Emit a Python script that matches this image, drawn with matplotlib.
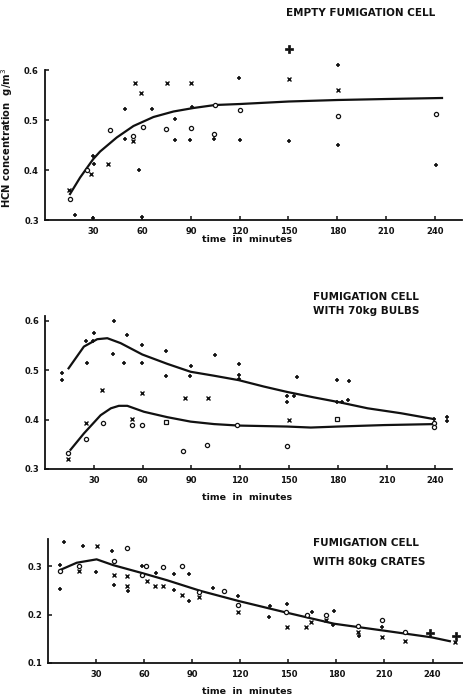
import matplotlib
matplotlib.use("Agg")
import matplotlib.pyplot as plt

# ---------------- data ----------------
# Panel 1: empty fumigation cell
top_plus_t = [18.8, 30, 29.6, 30.7, 49.6, 49.6, 57.8, 60, 66, 80, 80, 90.8, 89.5, 104.3, 119.7, 119.9, 150.2, 180.2, 180.2, 240.5]
top_plus_v = [0.31, 0.305, 0.429, 0.412, 0.523, 0.463, 0.401, 0.307, 0.523, 0.503, 0.46, 0.527, 0.46, 0.463, 0.585, 0.461, 0.459, 0.61, 0.45, 0.41]
top_big_t = [150.2]
top_big_v = [0.643]
top_x_t = [15.1, 28.4, 39.3, 55.7, 54.7, 59.6, 75.2, 90.2, 150.2, 180.4]
top_x_v = [0.361, 0.392, 0.412, 0.575, 0.459, 0.555, 0.575, 0.575, 0.583, 0.561]
top_o_t = [15.7, 26.3, 40.5, 54.7, 60.8, 74.6, 90.2, 104.3, 105, 120.3, 180.2, 240.5]
top_o_v = [0.343, 0.401, 0.481, 0.468, 0.486, 0.483, 0.485, 0.472, 0.531, 0.521, 0.509, 0.512]
top_curve_t = [15.7, 21.9, 30, 34.2, 44.4, 54.7, 67, 79.3, 91.6, 104.9, 120.3, 150.2, 180.2, 210.5, 244.4]
top_curve_v = [0.352, 0.385, 0.422, 0.437, 0.465, 0.488, 0.506, 0.517, 0.524, 0.53, 0.532, 0.537, 0.54, 0.542, 0.544]

# Panel 2: fumigation cell with 70 kg bulbs
mid_plus_t = [10.2, 10.2, 25.5, 26, 30, 29.4, 42.3, 41.5, 50.2, 48.5, 59.8, 59.8, 74.6, 74.1, 90, 88.9, 104.3,
              119.1, 119.1, 119.1, 149, 149, 153.1, 155.2, 179.4, 187, 179.8, 182.3, 186, 239.3, 247, 247]
mid_plus_v = [0.495, 0.48, 0.56, 0.514, 0.575, 0.56, 0.6, 0.533, 0.572, 0.514, 0.551, 0.514, 0.54, 0.489, 0.509, 0.489, 0.531,
              0.513, 0.49, 0.483, 0.448, 0.436, 0.447, 0.487, 0.48, 0.478, 0.436, 0.436, 0.44, 0.401, 0.405, 0.398]
mid_x_t = [35.2, 59.8, 86.1, 100.2, 14.3, 25, 53.6, 150]
mid_x_v = [0.46, 0.453, 0.443, 0.443, 0.32, 0.394, 0.401, 0.399]
mid_sq_t = [74.1, 179.4]
mid_sq_v = [0.396, 0.401]
mid_o_t = [14.3, 25, 35.6, 53.6, 59.8, 85, 99.8, 118.2, 149, 239.3, 239.3]
mid_o_v = [0.332, 0.361, 0.394, 0.389, 0.389, 0.337, 0.349, 0.389, 0.347, 0.393, 0.386]
mid_up_curve_t = [14.5, 23.9, 32.1, 38.3, 46.5, 59.8, 75.2, 89.5, 103.9, 119.1, 134.6, 149, 165.4, 179.8, 198.3, 218.8, 239.3]
mid_up_curve_v = [0.504, 0.548, 0.563, 0.565, 0.555, 0.532, 0.513, 0.497, 0.489, 0.48, 0.467, 0.456, 0.445, 0.436, 0.423, 0.413, 0.401]
mid_lo_curve_t = [15.7, 23.9, 34.2, 40.5, 45.4, 50.6, 60.8, 75.2, 89.5, 103.9, 119.1, 149, 163.4, 179.8, 208.5, 239.3]
mid_lo_curve_v = [0.339, 0.372, 0.409, 0.423, 0.428, 0.428, 0.416, 0.405, 0.396, 0.391, 0.388, 0.386, 0.384, 0.386, 0.389, 0.391]

# Panel 3: fumigation cell with 80 kg crates
bot_plus_t = [7.6, 7.6, 10, 22.1, 30, 40.2, 41, 50.2, 58.5, 67.4, 78.9, 78.9, 88.2, 88.2, 102.8, 118.6, 138.5, 138.1,
              148.9, 164.5, 178.7, 178, 194, 208.2]
bot_plus_v = [0.303, 0.252, 0.349, 0.341, 0.288, 0.331, 0.261, 0.249, 0.301, 0.286, 0.283, 0.251, 0.283, 0.228, 0.254, 0.238, 0.218, 0.195,
              0.221, 0.206, 0.208, 0.179, 0.156, 0.175]
bot_o_t = [7.6, 19.4, 41, 49.5, 61.2, 58.5, 72, 83.7, 94.5, 109.8, 118.6, 148.5, 161.4, 173.3, 193.2, 208.2, 223]
bot_o_v = [0.290, 0.301, 0.310, 0.338, 0.300, 0.282, 0.299, 0.300, 0.247, 0.249, 0.220, 0.206, 0.199, 0.199, 0.177, 0.188, 0.164]
bot_x_t = [19.4, 30.4, 41, 49.5, 49.5, 61.6, 67, 72, 83.7, 94.5, 118.6, 148.9, 160.9, 163.9, 173.3, 193.2, 208.2, 223, 253.8]
bot_x_v = [0.290, 0.342, 0.282, 0.279, 0.260, 0.270, 0.258, 0.258, 0.240, 0.236, 0.206, 0.174, 0.174, 0.184, 0.188, 0.163, 0.153, 0.145, 0.143]
bot_big_t = [238.4, 254.5]
bot_big_v = [0.162, 0.156]
bot_curve_t = [7.6, 18, 30.4, 40.8, 59.5, 74.2, 95.1, 119, 148.9, 178.7, 209.3, 239.4, 250.8]
bot_curve_v = [0.292, 0.307, 0.314, 0.302, 0.285, 0.271, 0.249, 0.228, 0.204, 0.181, 0.167, 0.153, 0.145]

x_ticks = [30, 60, 90, 120, 150, 180, 210, 240]
x_ticklabels = ["30", "60", "90", "120", "150", "180", "210", "240"]
top_yticks = [0.3, 0.4, 0.5, 0.6]
mid_yticks = [0.3, 0.4, 0.5, 0.6]
bot_yticks = [0.1, 0.2, 0.3]

# ---------------- drawing ----------------
W, H = 464, 697
fig = plt.figure(figsize=(W / 100, H / 100), dpi=100)
fig.patch.set_facecolor("white")

FONT = "DejaVu Sans"
tick_fs = 6
ink = "#111111"


def px_axes(left, bottom_px, right, top_px):
    return fig.add_axes([left / W, 1 - bottom_px / H, (right - left) / W, (bottom_px - top_px) / H])


def style(ax, xlim, ylim, yticks, spine_top):
    ax.set_xlim(*xlim)
    ax.set_ylim(*ylim)
    for s in ("top", "right"):
        ax.spines[s].set_visible(False)
    ax.spines["left"].set_bounds(ylim[0], spine_top)
    ax.spines["left"].set_linewidth(1.3)
    ax.spines["bottom"].set_linewidth(1.3)
    ax.spines["left"].set_color(ink)
    ax.spines["bottom"].set_color(ink)
    ax.set_xticks(x_ticks)
    ax.set_xticklabels(x_ticklabels, fontsize=tick_fs, fontweight="bold", family=FONT)
    ax.set_yticks(yticks)
    ax.set_yticklabels(["%.1f" % v for v in yticks], fontsize=tick_fs, fontweight="bold", family=FONT)
    ax.tick_params(axis="both", direction="in", length=3, width=1.1, colors=ink)
    ax.tick_params(axis="x", pad=5)
    ax.tick_params(axis="y", pad=4)


def pts(ax, t, v, marker, ms=3.5, mew=1.0, fill="none"):
    ax.plot(t, v, linestyle="none", marker=marker, markersize=ms, markeredgewidth=mew,
            markerfacecolor=fill, markeredgecolor=ink, color=ink, clip_on=False)


# Panel 1
ax1 = px_axes(44.5, 220, 462.5, 45)
style(ax1, (0, 257), (0.3, 0.65), top_yticks, 0.6)
ax1.plot(top_curve_t, top_curve_v, color=ink, lw=1.6)
pts(ax1, top_plus_t, top_plus_v, "+", ms=3.2, mew=1.2)
pts(ax1, top_x_t, top_x_v, "x", ms=2.8, mew=1.0)
pts(ax1, top_o_t, top_o_v, "o", ms=3.0, mew=0.9, fill="white")
pts(ax1, top_big_t, top_big_v, "P", ms=6, mew=0.5, fill=ink)

# Panel 2
ax2 = px_axes(45, 469, 451.7, 316)
style(ax2, (0, 250), (0.3, 0.61), mid_yticks, 0.61)
ax2.plot(mid_up_curve_t, mid_up_curve_v, color=ink, lw=1.6)
ax2.plot(mid_lo_curve_t, mid_lo_curve_v, color=ink, lw=1.6)
pts(ax2, mid_plus_t, mid_plus_v, "+", ms=3.2, mew=1.2)
pts(ax2, mid_x_t, mid_x_v, "x", ms=2.8, mew=1.0)
pts(ax2, mid_sq_t, mid_sq_v, "s", ms=3.0, mew=0.9, fill="white")
pts(ax2, mid_o_t, mid_o_v, "o", ms=3.0, mew=0.9, fill="white")

# Panel 3
ax3 = px_axes(47.9, 663, 463, 539)
style(ax3, (0, 259), (0.1, 0.356), bot_yticks, 0.356)
ax3.plot(bot_curve_t, bot_curve_v, color=ink, lw=1.6)
pts(ax3, bot_plus_t, bot_plus_v, "+", ms=3.2, mew=1.2)
pts(ax3, bot_x_t, bot_x_v, "x", ms=2.8, mew=1.0)
pts(ax3, bot_o_t, bot_o_v, "o", ms=3.0, mew=0.9, fill="white")
pts(ax3, bot_big_t, bot_big_v, "P", ms=5.5, mew=0.5, fill=ink)

# Titles
tfs = 7.5
fig.text(435 / W, 1 - 13 / H, "EMPTY FUMIGATION CELL", ha="right", va="center",
         fontsize=tfs, fontweight="bold", family=FONT, color=ink)
fig.text(313 / W, 1 - 297 / H, "FUMIGATION CELL", ha="left", va="center",
         fontsize=tfs, fontweight="bold", family=FONT, color=ink)
fig.text(313 / W, 1 - 311 / H, "WITH 70kg BULBS", ha="left", va="center",
         fontsize=tfs, fontweight="bold", family=FONT, color=ink)
fig.text(313 / W, 1 - 543 / H, "FUMIGATION CELL", ha="left", va="center",
         fontsize=tfs, fontweight="bold", family=FONT, color=ink)
fig.text(313 / W, 1 - 562 / H, "WITH 80kg CRATES", ha="left", va="center",
         fontsize=tfs, fontweight="bold", family=FONT, color=ink)

# Axis labels
fig.text(7 / W, 1 - 138 / H, "HCN concentration  g/m$^3$", rotation=90, ha="center", va="center",
         fontsize=7.2, fontweight="bold", family=FONT, color=ink)
for yy in (240, 497, 691):
    fig.text(247 / W, 1 - yy / H, "time  in  minutes", ha="center", va="center",
             fontsize=6.8, fontweight="bold", family=FONT, color=ink)

fig.savefig("out.png", dpi=100, facecolor="white")
